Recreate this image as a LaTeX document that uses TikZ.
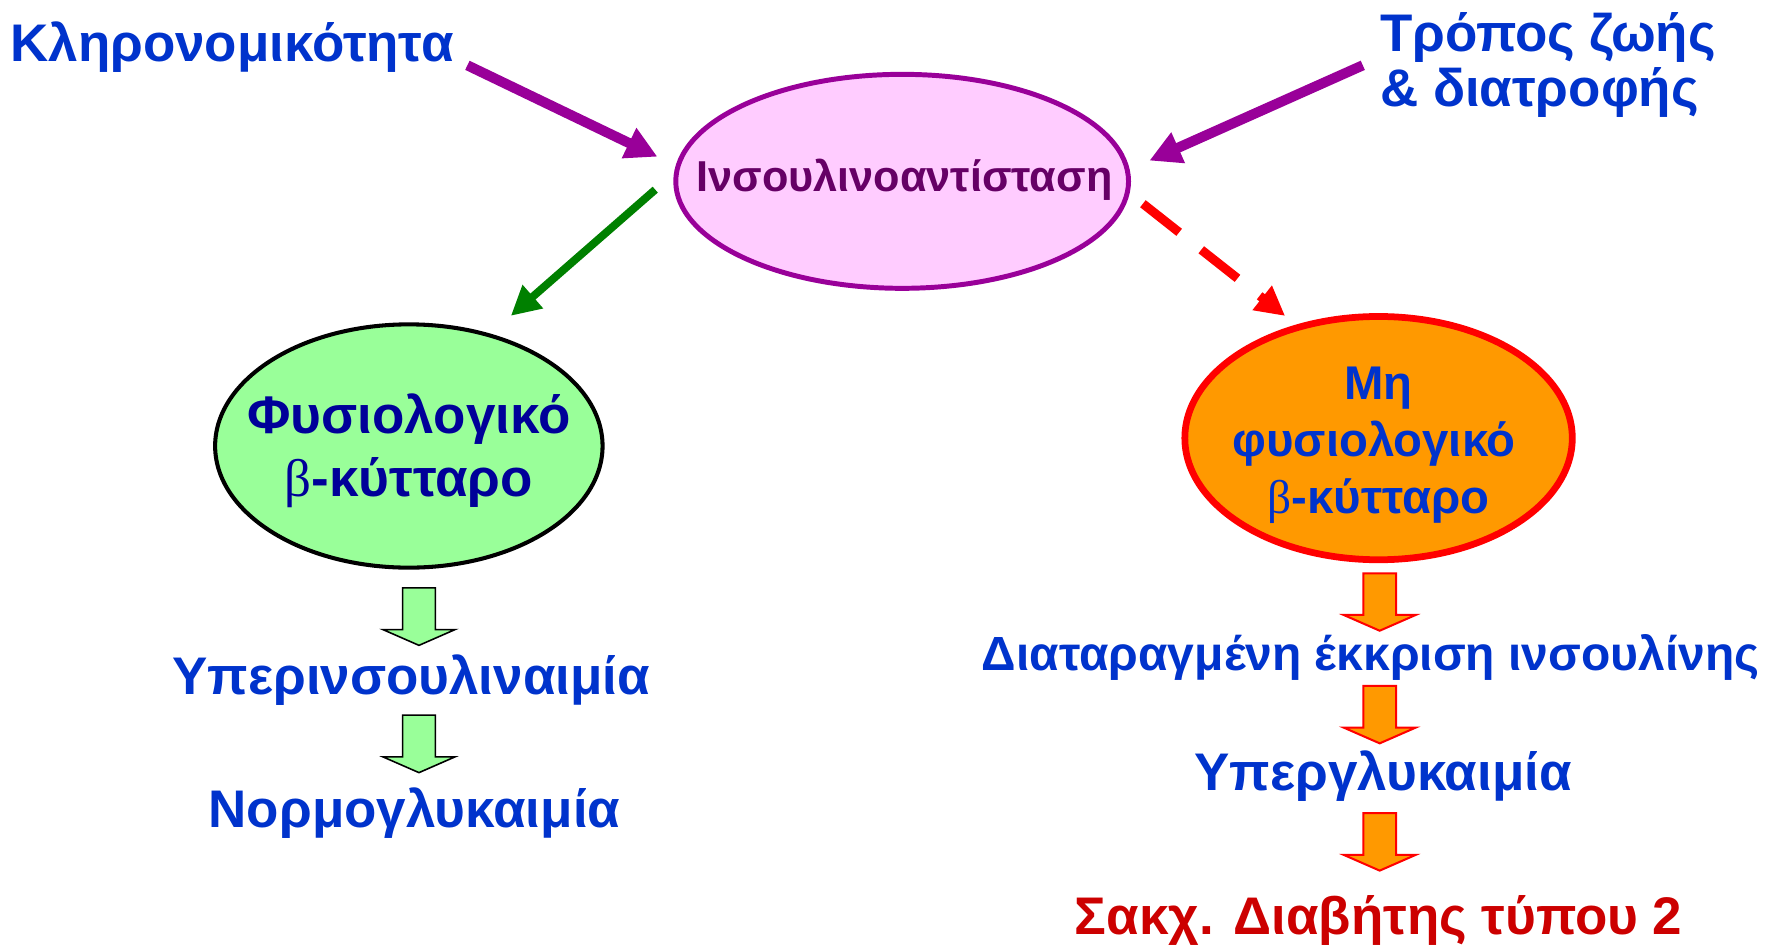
\documentclass[tikz,border=0pt]{standalone}
\usepackage{fontspec}
\setmainfont{Liberation Sans}
\newfontfamily\betafont{Liberation Serif}
\usetikzlibrary{arrows.meta,shapes.geometric}
\definecolor{arrpurple}{HTML}{990099}
\definecolor{irfill}{HTML}{FFCCFF}
\definecolor{irtext}{HTML}{660066}
\definecolor{arrgreen}{HTML}{008000}
\definecolor{cellgreen}{HTML}{99FF99}
\definecolor{cellorange}{HTML}{FF9900}
\definecolor{txtblue}{HTML}{0033CC}
\definecolor{txtnavy}{HTML}{000099}
\definecolor{txtred}{HTML}{CC0000}
\newcommand{\bcell}{{\betafont\mdseries β}}

\begin{document}
\begin{tikzpicture}[x=0.5pt, y=-0.5pt,
		lbl/.style={font=\bfseries\fontsize{23.5}{28}\selectfont, text=txtblue, inner sep=0pt, anchor=base},
		cell/.style={ellipse, inner sep=0pt},
		pa/.style={draw=arrpurple, line width=4.5pt, -{Triangle[length=14pt,width=14pt]}},
		ga/.style={draw=arrgreen, line width=3.5pt, -{Triangle[length=13pt,width=13pt]}},
		ra/.style={draw=red, line width=4pt, dash pattern=on 20.5pt off 12.5pt, -{Triangle[length=13pt,width=13pt]}},
		blockarr/.pic={\path[pic actions] (-14.5,0) -- (14.5,0) -- (14.5,37) -- (32,37) -- (0,51) -- (-32,37) -- (-14.5,37) -- cycle;},
		gblk/.style={fill=cellgreen, draw=black, line width=0.7pt},
		oblk/.style={fill=cellorange, draw=red, line width=0.9pt}]
	\useasboundingbox (0,0) rectangle (1568,840);
	% the three cells
	\node[cell, fill=irfill, draw=arrpurple, line width=2.2pt, minimum width=201pt, minimum height=95pt] (ir) at (801,161) {};
	\node[cell, fill=cellgreen, draw=black, line width=1.8pt, minimum width=172pt, minimum height=108pt] (phys) at (363,396) {};
	\node[cell, fill=cellorange, draw=red, line width=3pt, minimum width=172pt, minimum height=108pt] (abn) at (1224,389) {};
	\node[lbl, text=irtext, font=\bfseries\fontsize{19.2}{23}\selectfont] (irlbl) at (803,170) {Ινσουλινοαντίσταση};
	\node[lbl, text=txtnavy] (phys1) at (363,385) {Φυσιολογικό};
	\node[lbl, text=txtnavy] (phys2) at (363,441) {\bcell-κύτταρο};
	\node[lbl, font=\bfseries\fontsize{21}{25}\selectfont] (abn1) at (1224,355) {Μη};
	\node[lbl, font=\bfseries\fontsize{21}{25}\selectfont] (abn2) at (1220,405) {φυσιολογικό};
	\node[lbl, font=\bfseries\fontsize{21}{25}\selectfont] (abn3) at (1224,456) {\bcell-κύτταρο};
	% causes
	\node[lbl] (hered) at (206,55) {Κληρονομικότητα};
	\node[lbl, anchor=base west] (life1) at (1225,46) {Τρόπος ζωής};
	\node[lbl, anchor=base west] (life2) at (1225,95) {\& διατροφής};
	\coordinate (hin) at (415,58);
	\coordinate (lin) at (1210,58);
	\draw[pa, shorten >=9pt] (hin) -- (ir.176);
	\draw[pa, shorten >=9.6pt] (lin) -- (ir.3.5);
	\draw[ga, shorten <=11pt, shorten >=12pt] (ir.178) -- (phys.54);
	\draw[ra, shorten <=7.5pt, shorten >=6.2pt] (ir.-3) -- (abn.126);
	% left column
	\node[lbl] (hyper) at (365,617) {Υπερινσουλιναιμία};
	\node[lbl] (normo) at (368,735) {Νορμογλυκαιμία};
	\pic[gblk] at (372,522) {blockarr};
	\pic[gblk] at (372,635) {blockarr};
	% right column
	\node[lbl, font=\bfseries\fontsize{21.3}{25}\selectfont] (secr) at (1217,595) {Διαταραγμένη έκκριση ινσουλίνης};
	\node[lbl] (glyc) at (1228,702) {Υπεργλυκαιμία};
	\node[lbl, text=txtred] (dm) at (1224,830) {Σακχ. Διαβήτης τύπου 2};
	\pic[oblk] at (1225,509) {blockarr};
	\pic[oblk] at (1225,609) {blockarr};
	\pic[oblk] at (1225,722) {blockarr};
\end{tikzpicture}
\end{document}
